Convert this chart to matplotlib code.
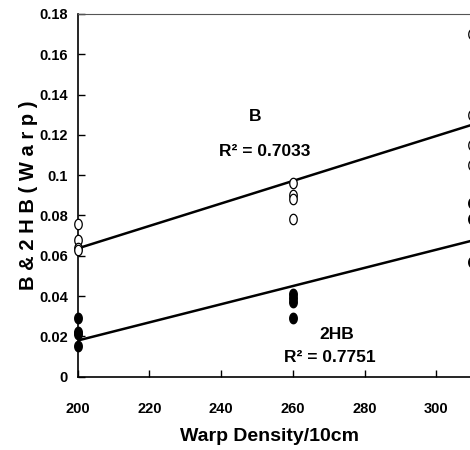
import numpy as np
import matplotlib.pyplot as plt
from matplotlib.path import Path

plt.rcParams['font.family'] = ['Liberation Sans', 'DejaVu Sans']
plt.rcParams['font.weight'] = 'bold'
plt.rcParams['axes.labelweight'] = 'bold'

# warp density (ends/10cm) and measured values
b_x = [200, 200, 200, 200, 260, 260, 260, 260, 310, 310, 310, 310]
b_y = [0.076, 0.068, 0.064, 0.063, 0.096, 0.090, 0.088, 0.078, 0.170, 0.130, 0.115, 0.105]
hb_x = [200, 200, 200, 200, 260, 260, 260, 260, 310, 310, 310]
hb_y = [0.029, 0.022, 0.021, 0.015, 0.041, 0.039, 0.037, 0.029, 0.086, 0.078, 0.057]

x_ticks = [200, 220, 240, 260, 280, 300]
y_ticks = [0, 0.02, 0.04, 0.06, 0.08, 0.1, 0.12, 0.14, 0.16, 0.18]
y_ticklabels = ['0', '0.02', '0.04', '0.06', '0.08', '0.1', '0.12', '0.14', '0.16', '0.18']

# slightly tall ellipse marker (the original was squeezed horizontally)
t = np.linspace(0, 2 * np.pi, 60)
ell = Path(np.column_stack([0.72 * np.cos(t), np.sin(t)]), closed=True)

fig = plt.figure(figsize=(4.7, 4.5), dpi=100)
ax = fig.add_axes([0.165, 0.163, 0.916, 0.806])

ax.plot(b_x, b_y, linestyle='none', marker=ell, markersize=7.5,
        markerfacecolor='white', markeredgecolor='black', markeredgewidth=0.9, clip_on=False, zorder=3)
ax.plot(hb_x, hb_y, linestyle='none', marker=ell, markersize=7.5,
        markerfacecolor='black', markeredgecolor='black', clip_on=False, zorder=3)

# linear trendlines
xs = np.array([200, 310])
pb = np.polyfit(b_x, b_y, 1)
ph = np.polyfit(hb_x, hb_y, 1)
ax.plot(xs, np.polyval(pb, xs), color='black', linewidth=1.8, zorder=2)
ax.plot(xs, np.polyval(ph, xs), color='black', linewidth=1.8, zorder=2)

ax.text(249.5, 0.129, 'B', ha='center', va='center', fontsize=12.5)
ax.text(252.3, 0.1117, 'R² = 0.7033', ha='center', va='center', fontsize=12.5)
ax.text(272.3, 0.0207, '2HB', ha='center', va='center', fontsize=12.5)
ax.text(270.4, 0.0093, 'R² = 0.7751', ha='center', va='center', fontsize=12.5)

ax.set_xlim(200, 320)
ax.set_ylim(0, 0.18)
ax.set_xticks(x_ticks)
ax.set_yticks(y_ticks)
ax.set_yticklabels(y_ticklabels)
ax.tick_params(direction='in', length=5, width=1, labelsize=10.5)
ax.tick_params(axis='x', pad=18)
ax.tick_params(axis='y', pad=7)

ax.spines['right'].set_visible(False)
ax.spines['top'].set_color('#555555')
ax.spines['left'].set_linewidth(1.2)
ax.spines['bottom'].set_linewidth(1.2)

ax.set_xlabel('Warp Density/10cm', fontsize=14)
ax.set_ylabel('B & 2 H B ( W a r p )', fontsize=14.5)
ax.xaxis.set_label_coords(0.447, -0.142)
ax.yaxis.set_label_coords(-0.093, 0.5)

fig.savefig('out.png', dpi=100)
